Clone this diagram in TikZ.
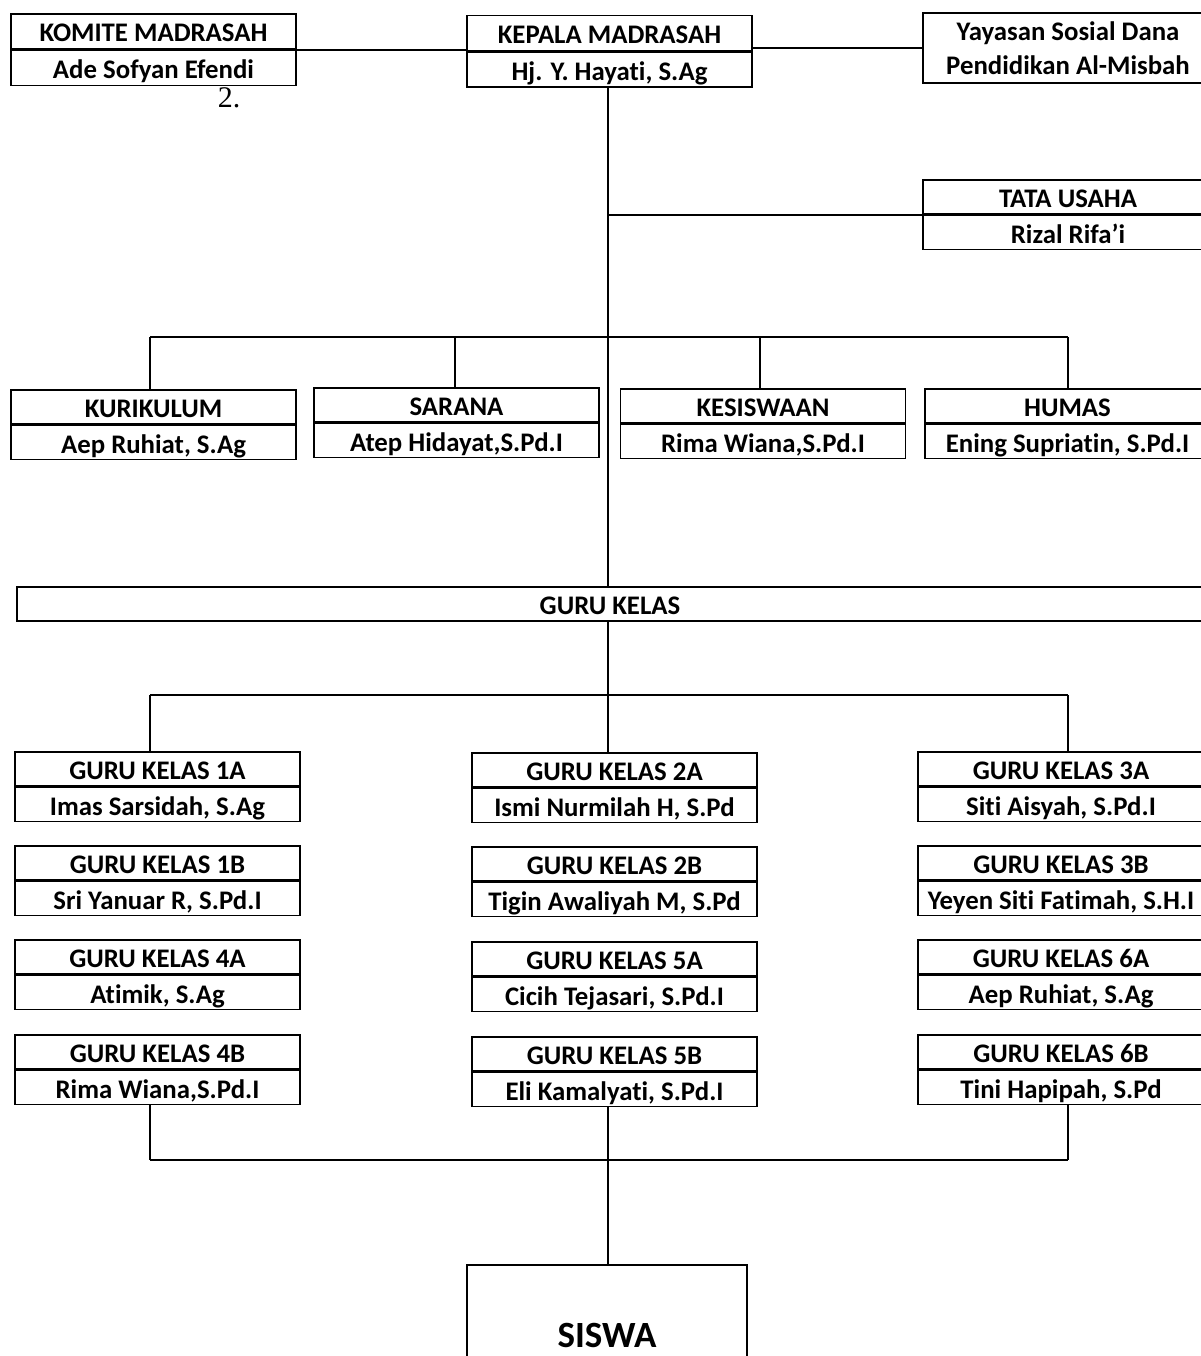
\documentclass[tikz,border=0pt]{standalone}
\usepackage{fontspec}
\setmainfont{Carlito}[Ligatures={NoCommon}]
\newfontfamily\numfont{Liberation Serif}
\usetikzlibrary{positioning}

\begin{document}
\begin{tikzpicture}[x=1pt,y=-1pt,line width=1.6pt,
  unit node/.style={draw,rectangle,minimum width=285pt,minimum height=34pt,inner sep=0pt,
    text height=23pt,text depth=2pt,font=\fontsize{26.8}{30}\selectfont\bfseries},
  top node/.style={unit node,minimum height=35pt},
  wide node/.style={draw,rectangle,minimum width=290pt,minimum height=70pt,inner sep=0pt,
    align=center,font=\fontsize{26.8}{34}\selectfont\bfseries}]

  \useasboundingbox (0,0) rectangle (1200,1356);

  % top row
  \node[top node] (komite) at (153.5,31.5) {KOMITE MADRASAH};
  \node[top node,below=0pt of komite] (komite-nm) {Ade Sofyan Efendi};
  \node[top node,minimum width=285pt] (kepala) at (609.5,33) {KEPALA MADRASAH};
  \node[top node,minimum width=285pt,below=0pt of kepala] (kepala-nm) {Hj. Y. Hayati, S.Ag};
  \node[wide node] (yayasan) at (1068,48) {Yayasan Sosial Dana\\Pendidikan Al-Misbah};
  \node[font=\numfont\fontsize{30}{34}\selectfont,inner sep=0pt] (nomor) at (229,97.5) {2.};

  \node[unit node,minimum width=290pt] (tu) at (1068,197) {TATA USAHA};
  \node[unit node,minimum width=290pt,below=0pt of tu] (tu-nm) {Rizal Rifa’i};

  % bidang
  \node[unit node] (kurikulum) at (153.5,407) {KURIKULUM};
  \node[unit node,below=0pt of kurikulum] (kurikulum-nm) {Aep Ruhiat, S.Ag};
  \node[unit node] (sarana) at (456.5,405) {SARANA};
  \node[unit node,below=0pt of sarana] (sarana-nm) {Atep Hidayat,S.Pd.I};
  \node[unit node] (kesiswaan) at (763,406) {KESISWAAN};
  \node[unit node,below=0pt of kesiswaan] (kesiswaan-nm) {Rima Wiana,S.Pd.I};
  \node[unit node] (humas) at (1067.5,406) {HUMAS};
  \node[unit node,below=0pt of humas] (humas-nm) {Ening Supriatin, S.Pd.I};

  \node[unit node,minimum width=1186pt] (guru) at (610,604) {GURU KELAS};

  % guru kelas, kiri
  \node[unit node] (g1a) at (157.5,769) {GURU KELAS 1A};
  \node[unit node,below=0pt of g1a] (g1a-nm) {Imas Sarsidah, S.Ag};
  \node[unit node] (g1b) at (157.5,863) {GURU KELAS 1B};
  \node[unit node,below=0pt of g1b] (g1b-nm) {Sri Yanuar R, S.Pd.I};
  \node[unit node] (g4a) at (157.5,957) {GURU KELAS 4A};
  \node[unit node,below=0pt of g4a] (g4a-nm) {Atimik, S.Ag};
  \node[unit node] (g4b) at (157.5,1052) {GURU KELAS 4B};
  \node[unit node,below=0pt of g4b] (g4b-nm) {Rima Wiana,S.Pd.I};

  % guru kelas, tengah
  \node[unit node] (g2a) at (614.5,770) {GURU KELAS 2A};
  \node[unit node,below=0pt of g2a] (g2a-nm) {Ismi Nurmilah H, S.Pd};
  \node[unit node] (g2b) at (614.5,864) {GURU KELAS 2B};
  \node[unit node,below=0pt of g2b] (g2b-nm) {Tigin Awaliyah M, S.Pd};
  \node[unit node] (g5a) at (614.5,959) {GURU KELAS 5A};
  \node[unit node,below=0pt of g5a] (g5a-nm) {Cicih Tejasari, S.Pd.I};
  \node[unit node] (g5b) at (614.5,1054) {GURU KELAS 5B};
  \node[unit node,below=0pt of g5b] (g5b-nm) {Eli Kamalyati, S.Pd.I};

  % guru kelas, kanan
  \node[unit node,minimum width=286pt] (g3a) at (1061,769) {GURU KELAS 3A};
  \node[unit node,minimum width=286pt,below=0pt of g3a] (g3a-nm) {Siti Aisyah, S.Pd.I};
  \node[unit node,minimum width=286pt] (g3b) at (1061,863) {GURU KELAS 3B};
  \node[unit node,minimum width=286pt,below=0pt of g3b] (g3b-nm) {Yeyen Siti Fatimah, S.H.I};
  \node[unit node,minimum width=286pt] (g6a) at (1061,957) {GURU KELAS 6A};
  \node[unit node,minimum width=286pt,below=0pt of g6a] (g6a-nm) {Aep Ruhiat, S.Ag};
  \node[unit node,minimum width=286pt] (g6b) at (1061,1052) {GURU KELAS 6B};
  \node[unit node,minimum width=286pt,below=0pt of g6b] (g6b-nm) {Tini Hapipah, S.Pd};

  \node[draw,rectangle,minimum width=280pt,minimum height=140pt,inner sep=0pt,
    font=\fontsize{37}{40}\selectfont\bfseries] (siswa) at (607,1335) {SISWA};

  % junctions
  \coordinate (trunk) at (608,0);
  \coordinate (j1) at (150,337);
  \coordinate (j2) at (455,337);
  \coordinate (j3) at (760,337);
  \coordinate (j4) at (1068,337);
  \coordinate (k1) at (150,695);
  \coordinate (k2) at (608,695);
  \coordinate (k3) at (1068,695);
  \coordinate (m1) at (150,1160);
  \coordinate (m2) at (608,1160);
  \coordinate (m3) at (1068,1160);

  % lines
  \draw (komite.south east) -- (komite.south east -| kepala.west);
  \draw (yayasan.west -| kepala.east) -- (yayasan.west);
  \draw (kepala-nm.south -| trunk) -- (guru.north -| trunk);
  \draw (tu.south west -| trunk) -- (tu.south west);

  \draw (j1) -- (j4);
  \draw (j1) -- (j1 |- kurikulum.north);
  \draw (j2) -- (j2 |- sarana.north);
  \draw (j3) -- (j3 |- kesiswaan.north);
  \draw (j4) -- (j4 |- humas.north);

  \draw (guru.south -| trunk) -- (k2);
  \draw (k1) -- (k3);
  \draw (k1) -- (k1 |- g1a.north);
  \draw (k2) -- (k2 |- g2a.north);
  \draw (k3) -- (k3 |- g3a.north);

  \draw (m1 |- g4b-nm.south) -- (m1);
  \draw (m2 |- g5b-nm.south) -- (m2);
  \draw (m3 |- g6b-nm.south) -- (m3);
  \draw (m1) -- (m3);
  \draw (m2) -- (m2 |- siswa.north);

\end{tikzpicture}
\end{document}
